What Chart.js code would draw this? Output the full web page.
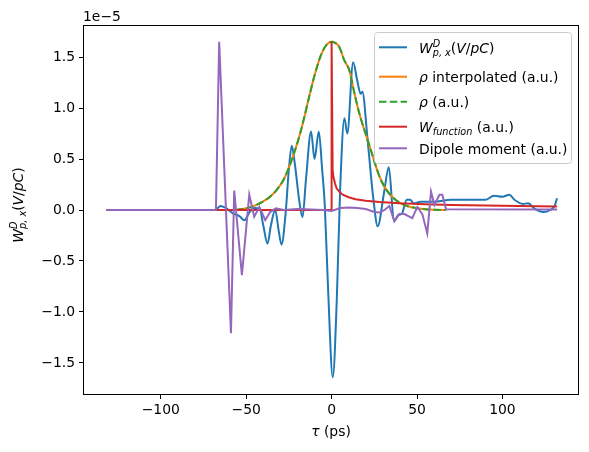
<!DOCTYPE html>
<html>
<head>
<meta charset="utf-8">
<script src="https://cdn.jsdelivr.net/npm/chart.js@4.4.0/dist/chart.umd.min.js"></script>
<style>
  html, body { margin: 0; padding: 0; background: #fff; }
</style>
</head>
<body>
<canvas id="wakeChart" width="589" height="452"></canvas>
<script>
// tick labels
const xTicks = [-100, -50, 0, 50, 100];
const yTicks = [-1.5, -1.0, -0.5, 0.0, 0.5, 1.0, 1.5];

// all values in units of 1e-5
// W_p,x^D
const wTau = [-132, -70, -68, -65, -62, -58, -54, -51, -48, -45, -42, -40, -37.5, -35.5, -33, -31, -29.3, -27, -25, -23.3,
  -21.5, -19, -17, -15, -12, -10, -7.5, -5.5, -4, -2, 0.7, 3, 5, 7.5, 9.2, 12.6, 15, 17, 18, 21,
  24.5, 27, 30.5, 33.5, 36.5, 39, 41, 44, 46, 48, 52, 60, 70, 85, 90, 95, 100, 104, 107, 112,
  115, 119, 124, 128, 130.5, 132];
const wVal = [0, 0, 0, 0.04, 0.02, -0.03, -0.06, -0.1, -0.02, 0.02, 0.01, -0.15, -0.33, -0.15, 0.0, -0.2, -0.34, -0.05, 0.4, 0.63,
  0.45, 0.1, -0.07, 0.3, 0.77, 0.5, 0.77, 0.39, 0.05, -0.8, -1.64, -0.9, 0.2, 0.9, 0.75, 1.45, 1.27, 1.14, 1.16, 0.7,
  0.1, -0.16, 0.15, 0.42, -0.11, -0.05, -0.04, 0.1, 0.1, 0.065, 0.08, 0.08, 0.1, 0.1, 0.1, 0.14, 0.13, 0.15, 0.1, 0.06,
  0.065, 0.01, -0.02, 0, 0.04, 0.115];

// rho (interpolated and original)
const rhoTau = [-132, -58, -52, -48, -44, -40, -36, -32, -28, -24, -20, -17, -13, -10, -6, -3, 0, 2, 4.5, 7.4,
  10.4, 13.3, 16.2, 22, 28, 32, 36, 40, 45, 50, 55, 60, 67];
const rhoVal = [0, 0, 0.01, 0.025, 0.05, 0.085, 0.13, 0.2, 0.3, 0.46, 0.66, 0.84, 1.12, 1.32, 1.53, 1.62, 1.65, 1.64, 1.60, 1.47,
  1.37, 1.15, 0.95, 0.64, 0.33, 0.2, 0.12, 0.07, 0.035, 0.018, 0.008, 0.003, 0];

// W_function
const fnTau = [-67, -0.3, 0, 0.6, 1, 2, 3, 4.5, 6.5, 10, 14, 20, 28, 40, 55, 70, 90, 110, 132];
const fnVal = [0, 0, 1.65, 0.40, 0.33, 0.26, 0.21, 0.18, 0.15, 0.125, 0.105, 0.09, 0.078, 0.066, 0.057, 0.05, 0.043, 0.039, 0.035];

// dipole moment
const dipTau = [-132, -67.7, -65.8, -58.9, -57, -52.5, -48.2, -45.3, -42.3, -38.8, -36, -32.6, -28, -20, -12, -5, 0, 5, 10, 15,
  20, 25, 28, 31, 33.8, 36.7, 39.6, 42.6, 47.2, 50.2, 53.1, 56, 58.2, 60.2, 63.1, 64.8, 67, 132];
const dipVal = [0, 0, 1.65, -1.21, 0.19, -0.64, 0.15, -0.065, 0.03, -0.1, -0.02, 0.016, 0.0, 0.01, 0.005, 0.0, -0.01, 0.02, 0.025, 0.02,
  0.01, -0.02, -0.025, 0.0, 0.04, -0.11, -0.04, -0.04, -0.08, 0.03, -0.04, -0.23, 0.18, 0.05, 0.15, 0.15, 0.007, 0.005];

const FONT = "'DejaVu Sans', sans-serif";
const FS = 13.9;

function pts(t, v) { return t.map((x, i) => ({ x: x, y: v[i] })); }
function minus(s) { return s.replace('-', '\u2212'); }

// draw text made of pieces (italic, sub/superscripts); returns width
function drawRich(ctx, parts, x, y, draw) {
  let cx = x, hold = 0;
  for (const p of parts) {
    const sz = FS * (p.s || 1);
    ctx.font = (p.i ? 'italic ' : '') + sz + 'px ' + FONT;
    const w = ctx.measureText(p.t).width;
    if (draw) ctx.fillText(p.t, cx, y + (p.dy || 0));
    if (p.keep) { hold = w; } else { cx += Math.max(w, hold); hold = 0; }
  }
  return cx - x;
}

const wLabel = [
  { t: 'W', i: 1 },
  { t: 'D', i: 1, s: 0.7, dy: -6, keep: 1 },
  { t: 'p, x', i: 1, s: 0.7, dy: 3 },
  { t: '(' }, { t: 'V', i: 1 }, { t: '/' }, { t: 'pC', i: 1 }, { t: ')' }
];

const legendRows = [
  { color: '#1f77b4', dash: [], y: 47.3, parts: wLabel },
  { color: '#ff7f0e', dash: [], y: 76.7, parts: [{ t: '\u03c1', i: 1 }, { t: ' interpolated (a.u.)' }] },
  { color: '#2ca02c', dash: [7.5, 3.3], y: 101.7, parts: [{ t: '\u03c1', i: 1 }, { t: ' (a.u.)' }] },
  { color: '#d62728', dash: [], y: 126.7, parts: [{ t: 'W', i: 1 }, { t: 'function', i: 1, s: 0.7, dy: 3 }, { t: ' (a.u.)' }] },
  { color: '#9467bd', dash: [], y: 148.3, parts: [{ t: 'Dipole moment (a.u.)' }] }
];

const decor = {
  id: 'decor',
  afterDraw(chart) {
    const ctx = chart.ctx, a = chart.chartArea;
    ctx.save();
    ctx.fillStyle = '#000';
    ctx.strokeStyle = '#000';
    ctx.lineWidth = 1;
    ctx.strokeRect(Math.round(a.left) + 0.5, Math.round(a.top) + 0.5,
      Math.round(a.right - a.left) - 1, Math.round(a.bottom - a.top) - 1);

    // offset text
    ctx.textBaseline = 'alphabetic';
    ctx.font = FS + 'px ' + FONT;
    ctx.fillText('1e\u22125', a.left, 21);

    // x label
    const xl = [{ t: '\u03c4', i: 1 }, { t: ' (ps)' }];
    const xw = drawRich(ctx, xl, 0, 0, false);
    drawRich(ctx, xl, (a.left + a.right) / 2 - xw / 2, 436, true);

    // y label
    ctx.save();
    ctx.translate(23, 205);
    ctx.rotate(-Math.PI / 2);
    const yw = drawRich(ctx, wLabel, 0, 0, false);
    drawRich(ctx, wLabel, -yw / 2, 0, true);
    ctx.restore();

    // legend
    ctx.beginPath();
    ctx.roundRect(374.5, 32.5, 197, 131, 3);
    ctx.fillStyle = 'rgba(255,255,255,0.8)';
    ctx.fill();
    ctx.strokeStyle = '#cccccc';
    ctx.stroke();
    for (const r of legendRows) {
      ctx.beginPath();
      ctx.setLineDash(r.dash);
      ctx.strokeStyle = r.color;
      ctx.lineWidth = 2;
      ctx.moveTo(379, r.y);
      ctx.lineTo(407, r.y);
      ctx.stroke();
      ctx.setLineDash([]);
      ctx.fillStyle = '#000';
      drawRich(ctx, r.parts, 419, r.y + 5.5, true);
    }
    ctx.restore();
  }
};

const line = { fill: false, pointRadius: 0, borderWidth: 2 };

new Chart(document.getElementById('wakeChart'), {
  type: 'line',
  data: {
    datasets: [
      Object.assign({ label: 'W', data: pts(wTau, wVal), borderColor: '#1f77b4', cubicInterpolationMode: 'monotone', order: 5 }, line),
      Object.assign({ label: 'rho interpolated', data: pts(rhoTau, rhoVal), borderColor: '#ff7f0e', cubicInterpolationMode: 'monotone', order: 4 }, line),
      Object.assign({ label: 'rho', data: pts(rhoTau, rhoVal), borderColor: '#2ca02c', borderDash: [7.5, 3.3], cubicInterpolationMode: 'monotone', order: 3 }, line),
      Object.assign({ label: 'W function', data: pts(fnTau, fnVal), borderColor: '#d62728', tension: 0, order: 2 }, line),
      Object.assign({ label: 'Dipole moment', data: pts(dipTau, dipVal), borderColor: '#9467bd', tension: 0, order: 1 }, line)
    ]
  },
  options: {
    responsive: false,
    animation: false,
    devicePixelRatio: 1,
    layout: { padding: { top: 25, right: 10, left: 0, bottom: 0 } },
    plugins: { legend: { display: false }, tooltip: { enabled: false } },
    scales: {
      x: {
        type: 'linear',
        min: -145.5,
        max: 144.8,
        afterFit: s => { s.height = 57; },
        afterBuildTicks: s => { s.ticks = xTicks.map(v => ({ value: v })); },
        border: { display: false },
        grid: { display: true, drawOnChartArea: false, tickLength: 4, color: '#000' },
        ticks: { color: '#000', font: { family: FONT, size: FS }, padding: 3, maxRotation: 0,
          callback: v => minus(String(v)) }
      },
      y: {
        type: 'linear',
        min: -1.815,
        max: 1.815,
        afterFit: s => { s.width = 83; },
        afterBuildTicks: s => { s.ticks = yTicks.map(v => ({ value: v })); },
        border: { display: false },
        grid: { display: true, drawOnChartArea: false, tickLength: 4, color: '#000' },
        ticks: { color: '#000', font: { family: FONT, size: FS }, padding: 4,
          callback: v => minus(v.toFixed(1)) }
      }
    }
  },
  plugins: [decor]
});
</script>
</body>
</html>
